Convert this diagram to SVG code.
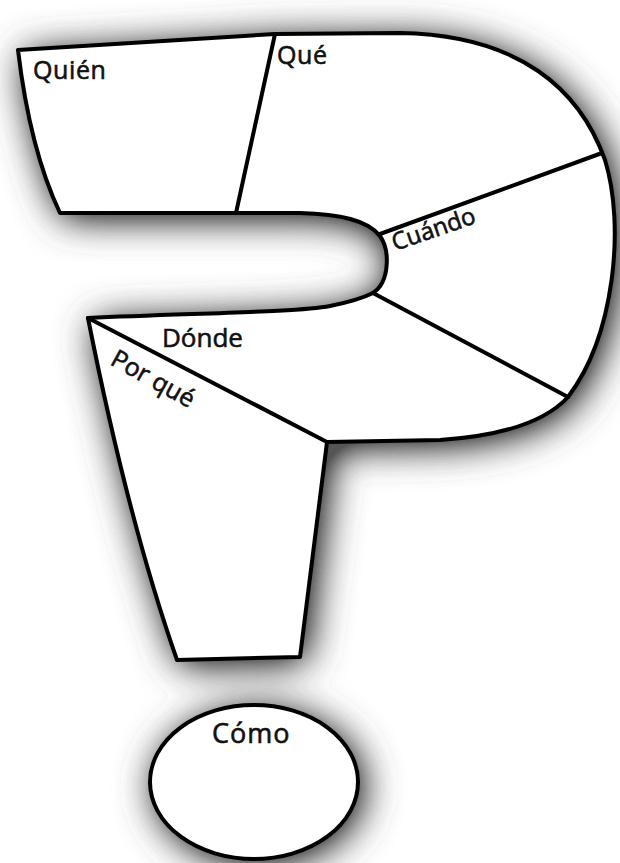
<svg xmlns="http://www.w3.org/2000/svg" width="620" height="863" viewBox="0 0 620 863">
  <defs>
    <filter id="shadow" x="-20%" y="-20%" width="140%" height="140%">
      <feGaussianBlur in="SourceGraphic" stdDeviation="19"/>
      <feOffset dx="5" dy="5" result="b"/>
      <feComponentTransfer>
        <feFuncA type="linear" slope="1.6"/>
      </feComponentTransfer>
    </filter>
    <path id="body" d="M 18,50 L 275,34 L 400,33 C 520,35 580,90 605,160 C 625,225 615,335 568,397 C 545,422 500,436 440,440 L 327,442 L 300,657 L 177,660 Q 128,520 88,318 C 200,313 300,312 330,306 C 350,302 363,298 373,293 C 390,282 390,250 380,236 C 368,220 340,214 300,213 L 60,213 Q 30,150 18,50 Z"/>
  </defs>
  <style>
    .outline { fill: #ffffff; stroke: #000000; stroke-width: 4; stroke-linejoin: round; }
    .divider { fill: none; stroke: #000000; stroke-width: 4; stroke-linecap: round; }
    .label { font-family: "Open Sans", "Noto Sans", sans-serif; fill: #111111; stroke: #111111; stroke-width: 0.6; }
  </style>
  <rect x="0" y="0" width="620" height="863" fill="#ffffff"/>
  <g id="shadows" filter="url(#shadow)" fill="#555555">
    <use href="#body"/>
    <ellipse cx="254" cy="782" rx="104" ry="77"/>
  </g>
  <g id="question-mark">
    <use href="#body" class="outline"/>
  </g>
  <g id="connectors">
    <line class="divider" x1="275" y1="34" x2="236" y2="213"/>
    <line class="divider" x1="602" y1="153" x2="380" y2="234"/>
    <line class="divider" x1="373" y1="293" x2="568" y2="397"/>
    <line class="divider" x1="88" y1="318" x2="327" y2="442"/>
  </g>
  <g id="node-quien">
    <text class="label" x="33" y="79" style="font-size:25px;letter-spacing:0.6px">Quién</text>
  </g>
  <g id="node-que">
    <text class="label" x="277" y="64" style="font-size:25px;letter-spacing:0.6px">Qué</text>
  </g>
  <g id="node-cuando">
    <text class="label" x="395" y="251" style="font-size:24px" transform="rotate(-19 395 251)">Cuándo</text>
  </g>
  <g id="node-donde">
    <text class="label" x="162" y="347" style="font-size:26px">Dónde</text>
  </g>
  <g id="node-porque">
    <text class="label" x="109" y="364" style="font-size:25px" transform="rotate(29 109 364)">Por qué</text>
  </g>
  <g id="node-como">
    <ellipse cx="254" cy="782" rx="104" ry="77" class="outline"/>
    <text class="label" x="212" y="743" style="font-size:27px;letter-spacing:1px">Cómo</text>
  </g>
</svg>
